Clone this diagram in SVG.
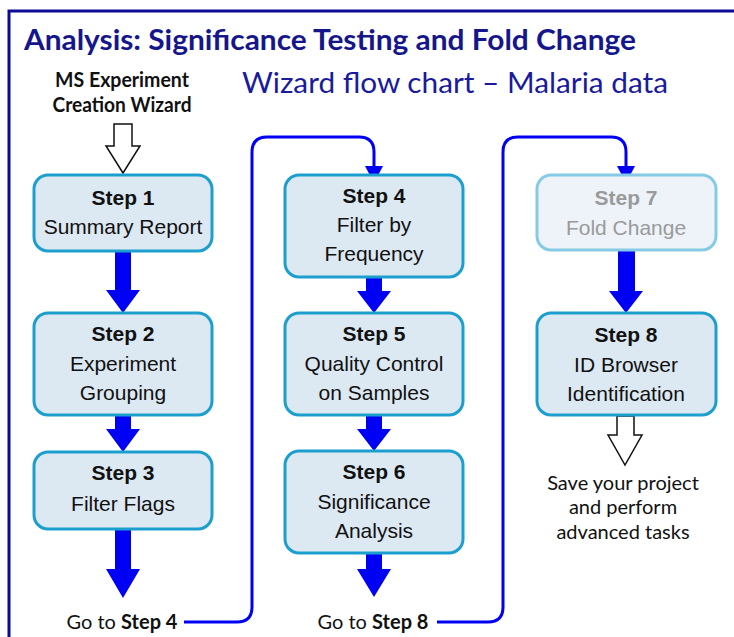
<svg xmlns="http://www.w3.org/2000/svg" width="734" height="637" viewBox="0 0 734 637">
  <style>
    .frame { fill: none; stroke: #0B0B96; stroke-width: 3; }
    .title { font-family: Lato, "Liberation Sans", sans-serif; font-weight: bold; font-size: 28px; fill: #16168C; }
    .subtitle { font-family: Lato, "Liberation Sans", sans-serif; font-size: 28px; fill: #1A1A9C; }
    .note { font-family: Lato, "Liberation Sans", sans-serif; font-size: 20px; fill: #111; text-anchor: middle; }
    .note-b { font-family: Lato, "Liberation Sans", sans-serif; font-weight: bold; font-size: 20px; fill: #111; text-anchor: middle; }
    .box { fill: #DCE8F2; stroke: #1C9FCE; stroke-width: 3; }
    .box-dim { fill: #EDF3F8; stroke: #86CBE6; stroke-width: 3; }
    .lbl { font-family: "Liberation Sans", Arial, sans-serif; font-size: 21px; fill: #111; text-anchor: middle; }
    .lbl-b { font-family: "Liberation Sans", Arial, sans-serif; font-weight: bold; font-size: 21px; fill: #111; text-anchor: middle; }
    .dim { fill: #9A9A9A; }
    .flow { fill: #0000F5; }
    .link { fill: none; stroke: #0000F5; stroke-width: 3; }
    .open { fill: #FFFFFF; stroke: #111; stroke-width: 1.5; stroke-linejoin: miter; }
  </style>

  <!-- outer frame (top and left edges visible) -->
  <path class="frame" d="M 9 640 V 11 H 740"/>

  <text class="title" x="24" y="50" textLength="612" lengthAdjust="spacingAndGlyphs">Analysis: Significance Testing and Fold Change</text>
  <text class="subtitle" x="242" y="93" textLength="426" lengthAdjust="spacingAndGlyphs">Wizard flow chart – Malaria data</text>

  <g id="wizard-start">
    <text class="note-b" x="122" y="87" textLength="134" lengthAdjust="spacingAndGlyphs">MS Experiment</text>
    <text class="note-b" x="122" y="112" textLength="139" lengthAdjust="spacingAndGlyphs">Creation Wizard</text>
  </g>

  <g id="connectors">
    <!-- entry arrow from the wizard -->
    <polygon class="open" points="114,124 132,124 132,146 140,146 123,173 106,146 114,146"/>
    <!-- column 1 -->
    <polygon class="flow" points="115,252 131,252 131,290 140,290 123,313 106,290 115,290"/>
    <polygon class="flow" points="115,415 131,415 131,429 140,429 123,452 106,429 115,429"/>
    <polygon class="flow" points="115,529 131,529 131,569 140,569 123,598 106,569 115,569"/>
    <!-- column 2 -->
    <polygon class="flow" points="366,277 382,277 382,291 391,291 374,313 357,291 366,291"/>
    <polygon class="flow" points="366,415 382,415 382,429 391,429 374,451 357,429 366,429"/>
    <polygon class="flow" points="366,553 382,553 382,569 391,569 374,597 357,569 366,569"/>
    <!-- column 3 -->
    <polygon class="flow" points="618,251 635,251 635,291 643,291 626,313 609,291 618,291"/>
    <polygon class="open" points="617,416 634,416 634,435 642,435 625,465 608,435 617,435"/>
    <!-- jump: Go to Step 4 -->
    <path class="link" d="M 184 622 H 237 Q 252 622 252 607 V 152 Q 252 137 267 137 H 359 Q 374 137 374 152 V 168"/>
    <polygon class="flow" points="365,166 383,166 374,183"/>
    <!-- jump: Go to Step 8 -->
    <path class="link" d="M 437 622 H 488 Q 503 622 503 607 V 152 Q 503 137 518 137 H 611 Q 626 137 626 152 V 168"/>
    <polygon class="flow" points="617,166 635,166 626,183"/>
  </g>

  <g id="step1">
    <rect class="box" x="34" y="175" width="178" height="76" rx="14"/>
    <text class="lbl-b" x="123" y="205">Step 1</text>
    <text class="lbl" x="123" y="234">Summary Report</text>
  </g>

  <g id="step2">
    <rect class="box" x="34" y="313" width="178" height="102" rx="14"/>
    <text class="lbl-b" x="123" y="341">Step 2</text>
    <text class="lbl" x="123" y="371">Experiment</text>
    <text class="lbl" x="123" y="400">Grouping</text>
  </g>

  <g id="step3">
    <rect class="box" x="34" y="452" width="178" height="77" rx="14"/>
    <text class="lbl-b" x="123" y="480">Step 3</text>
    <text class="lbl" x="123" y="511">Filter Flags</text>
  </g>

  <g id="goto4">
    <text class="note" x="122" y="629">Go to <tspan font-weight="bold">Step 4</tspan></text>
  </g>

  <g id="step4">
    <rect class="box" x="285" y="175" width="178" height="102" rx="14"/>
    <text class="lbl-b" x="374" y="203">Step 4</text>
    <text class="lbl" x="374" y="232">Filter by</text>
    <text class="lbl" x="374" y="261">Frequency</text>
  </g>

  <g id="step5">
    <rect class="box" x="285" y="313" width="178" height="102" rx="14"/>
    <text class="lbl-b" x="374" y="341">Step 5</text>
    <text class="lbl" x="374" y="371">Quality Control</text>
    <text class="lbl" x="374" y="400">on Samples</text>
  </g>

  <g id="step6">
    <rect class="box" x="285" y="451" width="178" height="102" rx="14"/>
    <text class="lbl-b" x="374" y="479">Step 6</text>
    <text class="lbl" x="374" y="509">Significance</text>
    <text class="lbl" x="374" y="538">Analysis</text>
  </g>

  <g id="goto8">
    <text class="note" x="373" y="629">Go to <tspan font-weight="bold">Step 8</tspan></text>
  </g>

  <g id="step7">
    <rect class="box-dim" x="537" y="175" width="179" height="75" rx="14"/>
    <text class="lbl-b dim" x="626" y="205">Step 7</text>
    <text class="lbl dim" x="626" y="235">Fold Change</text>
  </g>

  <g id="step8">
    <rect class="box" x="537" y="313" width="179" height="102" rx="14"/>
    <text class="lbl-b" x="626" y="342">Step 8</text>
    <text class="lbl" x="626" y="372">ID Browser</text>
    <text class="lbl" x="626" y="401">Identification</text>
  </g>

  <g id="finish">
    <text class="note" x="623" y="490">Save your project</text>
    <text class="note" x="623" y="514">and perform</text>
    <text class="note" x="623" y="539">advanced tasks</text>
  </g>
</svg>
